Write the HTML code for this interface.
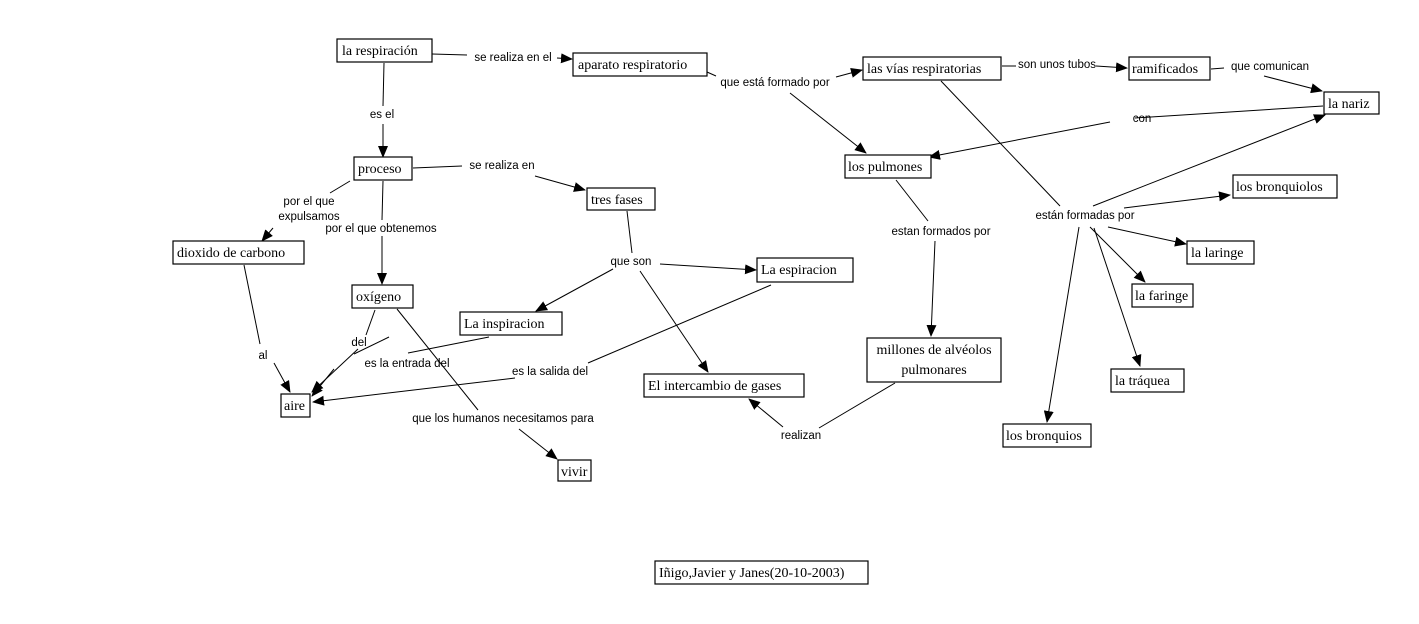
<!DOCTYPE html>
<html><head><meta charset="utf-8"><style>
html,body{margin:0;padding:0;background:#fff;}
svg{display:block;}
.n{fill:#fff;stroke:#000;stroke-width:1.2;}
.t{font-family:"Liberation Serif",serif;font-size:14px;fill:#000;}
.l{font-family:"Liberation Sans",sans-serif;font-size:11.5px;fill:#000;}
line{stroke:#000;stroke-width:1;}
</style></head><body>
<svg width="1419" height="624" viewBox="0 0 1419 624" xmlns="http://www.w3.org/2000/svg">
<defs><marker id="a" markerWidth="12" markerHeight="10" refX="11" refY="5" orient="auto" markerUnits="userSpaceOnUse"><path d="M0,0 L12,5 L0,10 z" fill="#000"/></marker></defs>
<g>
<!-- connectors -->
<line x1="432" y1="54" x2="467" y2="55"/><line x1="557" y1="58" x2="572" y2="59" marker-end="url(#a)"/>
<line x1="384" y1="63" x2="383" y2="106"/><line x1="383" y1="124" x2="383" y2="157" marker-end="url(#a)"/>
<line x1="707" y1="72" x2="716" y2="76"/><line x1="836" y1="77" x2="862" y2="70" marker-end="url(#a)"/>
<line x1="790" y1="93" x2="866" y2="153" marker-end="url(#a)"/>
<line x1="1002" y1="66" x2="1016" y2="66"/><line x1="1096" y1="66" x2="1127" y2="68" marker-end="url(#a)"/>
<line x1="1211" y1="69" x2="1224" y2="68"/><line x1="1264" y1="76" x2="1322" y2="91" marker-end="url(#a)"/>
<line x1="1323" y1="106" x2="1135" y2="118"/><line x1="1110" y1="122" x2="929" y2="157" marker-end="url(#a)"/>
<line x1="413" y1="168" x2="462" y2="166"/><line x1="535" y1="176" x2="585" y2="190" marker-end="url(#a)"/>
<line x1="350" y1="181" x2="330" y2="193"/><line x1="273" y1="228" x2="262" y2="241" marker-end="url(#a)"/>
<line x1="383" y1="181" x2="382" y2="220"/><line x1="382" y1="236" x2="382" y2="284" marker-end="url(#a)"/>
<line x1="627" y1="211" x2="632" y2="253"/><line x1="660" y1="264" x2="756" y2="270" marker-end="url(#a)"/>
<line x1="613" y1="269" x2="536" y2="311" marker-end="url(#a)"/>
<line x1="640" y1="271" x2="708" y2="372" marker-end="url(#a)"/>
<line x1="244" y1="265" x2="260" y2="344"/><line x1="274" y1="363" x2="290" y2="392" marker-end="url(#a)"/>
<line x1="375" y1="310" x2="366" y2="335"/><line x1="358" y1="349" x2="312" y2="392" marker-end="url(#a)"/>
<line x1="389" y1="337" x2="354" y2="354"/><line x1="489" y1="337" x2="408" y2="353"/><line x1="334" y1="369" x2="312" y2="396" marker-end="url(#a)"/>
<line x1="771" y1="285" x2="588" y2="363"/><line x1="515" y1="378" x2="313" y2="402" marker-end="url(#a)"/>
<line x1="397" y1="309" x2="478" y2="410"/><line x1="519" y1="429" x2="557" y2="459" marker-end="url(#a)"/>
<line x1="895" y1="383" x2="819" y2="428"/><line x1="783" y1="427" x2="749" y2="399" marker-end="url(#a)"/>
<line x1="896" y1="180" x2="928" y2="221"/><line x1="935" y1="241" x2="931" y2="336" marker-end="url(#a)"/>
<line x1="941" y1="81" x2="1060" y2="206"/>
<line x1="1093" y1="206" x2="1325" y2="115" marker-end="url(#a)"/>
<line x1="1124" y1="208" x2="1230" y2="195" marker-end="url(#a)"/>
<line x1="1108" y1="227" x2="1186" y2="244" marker-end="url(#a)"/>
<line x1="1079" y1="227" x2="1047" y2="422" marker-end="url(#a)"/>
<line x1="1090" y1="227" x2="1145" y2="282" marker-end="url(#a)"/>
<line x1="1094" y1="228" x2="1140" y2="366" marker-end="url(#a)"/>
</g>
<!-- nodes -->
<rect class="n" x="337" y="39" width="95" height="23"/><text class="t" x="342" y="55">la respiración</text>
<rect class="n" x="573" y="53" width="134" height="23"/><text class="t" x="578" y="69">aparato respiratorio</text>
<rect class="n" x="863" y="57" width="138" height="23"/><text class="t" x="867" y="73">las vías respiratorias</text>
<rect class="n" x="1129" y="57" width="81" height="23"/><text class="t" x="1132" y="73">ramificados</text>
<rect class="n" x="1324" y="92" width="55" height="22"/><text class="t" x="1328" y="108">la nariz</text>
<rect class="n" x="354" y="157" width="58" height="23"/><text class="t" x="358" y="173">proceso</text>
<rect class="n" x="845" y="155" width="86" height="23"/><text class="t" x="848" y="171">los pulmones</text>
<rect class="n" x="1233" y="175" width="104" height="23"/><text class="t" x="1236" y="191">los bronquiolos</text>
<rect class="n" x="587" y="188" width="68" height="22"/><text class="t" x="591" y="204">tres fases</text>
<rect class="n" x="173" y="241" width="131" height="23"/><text class="t" x="177" y="257">dioxido de carbono</text>
<rect class="n" x="1187" y="241" width="67" height="23"/><text class="t" x="1191" y="257">la laringe</text>
<rect class="n" x="757" y="258" width="96" height="24"/><text class="t" x="761" y="274">La espiracion</text>
<rect class="n" x="352" y="285" width="61" height="23"/><text class="t" x="356" y="301">oxígeno</text>
<rect class="n" x="1132" y="284" width="61" height="23"/><text class="t" x="1135" y="300">la faringe</text>
<rect class="n" x="460" y="312" width="102" height="23"/><text class="t" x="464" y="328">La inspiracion</text>
<rect class="n" x="867" y="338" width="134" height="44"/><text class="t" x="934" y="354" text-anchor="middle">millones de alvéolos</text><text class="t" x="934" y="374" text-anchor="middle">pulmonares</text>
<rect class="n" x="1111" y="369" width="73" height="23"/><text class="t" x="1115" y="385">la tráquea</text>
<rect class="n" x="644" y="374" width="160" height="23"/><text class="t" x="648" y="390">El intercambio de gases</text>
<rect class="n" x="281" y="394" width="29" height="23"/><text class="t" x="284" y="410">aire</text>
<rect class="n" x="1003" y="424" width="88" height="23"/><text class="t" x="1006" y="440">los bronquios</text>
<rect class="n" x="558" y="460" width="33" height="21"/><text class="t" x="561" y="476">vivir</text>
<rect class="n" x="655" y="561" width="213" height="23"/><text class="t" x="659" y="577">Iñigo,Javier y Janes(20-10-2003)</text>
<!-- labels -->
<g class="l" text-anchor="middle">
<text x="513" y="61">se realiza en el</text>
<text x="382" y="118">es el</text>
<text x="775" y="86">que está formado por</text>
<text x="1057" y="68">son unos tubos</text>
<text x="1270" y="70">que comunican</text>
<text x="1142" y="122">con</text>
<text x="502" y="169">se realiza en</text>
<text x="309" y="205">por el que</text>
<text x="309" y="220">expulsamos</text>
<text x="381" y="232">por el que obtenemos</text>
<text x="941" y="235">estan formados por</text>
<text x="1085" y="219">están formadas por</text>
<text x="631" y="265">que son</text>
<text x="263" y="359">al</text>
<text x="359" y="346">del</text>
<text x="407" y="367">es la entrada del</text>
<text x="550" y="375">es la salida del</text>
<text x="503" y="422">que los humanos necesitamos para</text>
<text x="801" y="439">realizan</text>
</g>
</svg>
</body></html>
